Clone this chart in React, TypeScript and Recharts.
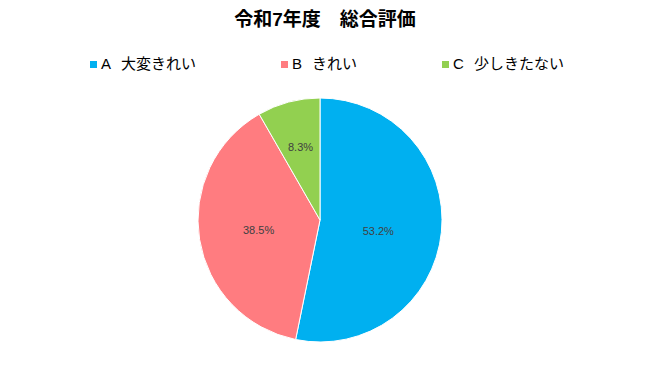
import React from "react";
import { PieChart, Pie, Cell } from "recharts";

const TITLE = "令和7年度　総合評価";
const CODES = ["A", "B", "C"];
const NAMES = ["大変きれい", "きれい", "少しきたない"];
const VALUES = [53.2, 38.5, 8.3];
const COLORS = ["#00B0F0", "#FF7C80", "#92D050"];

const data = NAMES.map((n, i) => ({ name: `${CODES[i]} ${n}`, value: VALUES[i] }));

const FONT = '"Liberation Sans", "Noto Sans CJK JP", sans-serif';
const LABEL_R = [0.48, 0.51, 0.62];
const RAD = Math.PI / 180;

const renderLabel = (props: any) => {
  const { cx, cy, midAngle, outerRadius, index, value } = props;
  const r = outerRadius * LABEL_R[index];
  const x = cx + r * Math.cos(-midAngle * RAD);
  const y = cy + r * Math.sin(-midAngle * RAD) + (index === 0 ? 5 : 0);
  return (
    <text
      x={x}
      y={y}
      textAnchor="middle"
      dominantBaseline="central"
      fill="#404040"
      fontSize={11}
      fontFamily={FONT}
    >
      {`${value.toFixed(1)}%`}
    </text>
  );
};

export default function App() {
  return (
    <div
      style={{
        position: "absolute",
        left: 0,
        top: 0,
        width: 650,
        height: 377,
        background: "#fff",
        fontFamily: FONT,
      }}
    >
      <div
        style={{
          position: "absolute",
          top: 7,
          left: 0,
          width: 650,
          textAlign: "center",
          fontSize: 19,
          fontWeight: "bold",
          color: "#000",
          lineHeight: "26px",
        }}
      >
        {TITLE}
      </div>
      <div
        style={{
          position: "absolute",
          top: 54,
          left: 0,
          width: 654,
          display: "flex",
          justifyContent: "center",
          gap: 85,
          fontSize: 15,
          color: "#000",
          lineHeight: "20px",
        }}
      >
        {NAMES.map((n, i) => (
          <div key={n} style={{ display: "flex", alignItems: "center" }}>
            <span
              style={{
                display: "inline-block",
                width: 7,
                height: 7,
                background: COLORS[i],
                marginRight: 4,
              }}
            />
            <span>{CODES[i]}</span>
            <span style={{ marginLeft: 10 }}>{n}</span>
          </div>
        ))}
      </div>
      <PieChart
        width={650}
        height={377}
        margin={{ top: 0, right: 0, bottom: 0, left: 0 }}
        style={{ position: "absolute", left: 0, top: 0 }}
      >
        <Pie
          data={data}
          dataKey="value"
          nameKey="name"
          cx={320}
          cy={220}
          outerRadius={122}
          startAngle={90}
          endAngle={-270}
          stroke="#fff"
          strokeWidth={1}
          label={renderLabel}
          labelLine={false}
          isAnimationActive={false}
        >
          {data.map((d, i) => (
            <Cell key={d.name} fill={COLORS[i]} />
          ))}
        </Pie>
      </PieChart>
    </div>
  );
}
